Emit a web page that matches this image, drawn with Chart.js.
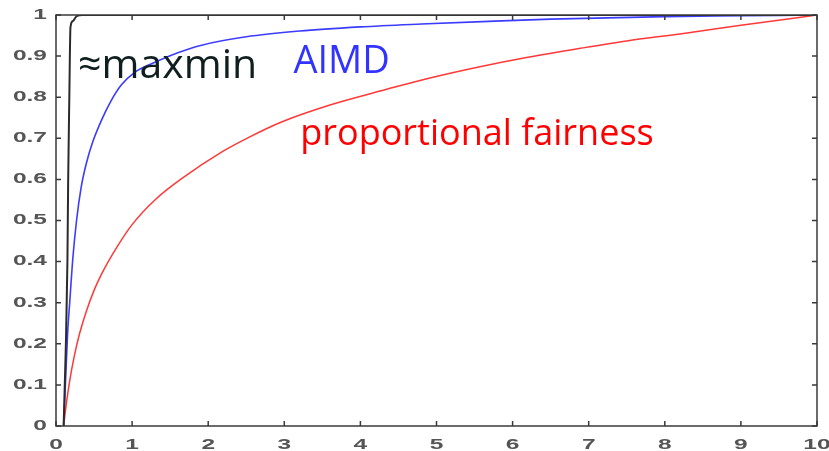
<!DOCTYPE html>
<html>
<head>
<meta charset="utf-8">
<script src="https://cdn.jsdelivr.net/npm/chart.js@4/dist/chart.umd.min.js"></script>
<style>
    html, body { margin: 0; padding: 0; background: #fff; }
    #wrap { width: 829px; height: 451px; }
</style>
</head>
<body>
<div id="wrap"><canvas id="fairChart" width="829" height="451"></canvas></div>
<script>
// tick labels
const xTicks = [0, 1, 2, 3, 4, 5, 6, 7, 8, 9, 10];
const yTicks = [0, 0.1, 0.2, 0.3, 0.4, 0.5, 0.6, 0.7, 0.8, 0.9, 1];
const yTickLabels = ['0', '0.1', '0.2', '0.3', '0.4', '0.5', '0.6', '0.7', '0.8', '0.9', '1'];

// ~maxmin (black)
const maxminX = [0.10, 0.13, 0.15, 0.16, 0.175, 0.19, 0.22, 0.27, 0.35, 10];
const maxminY = [0, 0.2, 0.4, 0.6, 0.8, 0.97, 0.985, 0.997, 1, 1];

// AIMD (blue)
const aimdX = [0.10, 0.13, 0.155, 0.18, 0.22, 0.27, 0.33, 0.40, 0.48, 0.60, 0.72, 0.86, 1.03, 1.3, 1.6, 1.9, 2.5, 3.2, 4.0, 4.8, 5.6, 6.5, 8.0, 9.0, 10];
const aimdY = [0, 0.13, 0.234, 0.30, 0.405, 0.50, 0.58, 0.64, 0.69, 0.745, 0.79, 0.83, 0.86, 0.885, 0.908, 0.926, 0.947, 0.961, 0.971, 0.978, 0.984, 0.99, 0.996, 0.998, 1];

// proportional fairness (red)
const propX = [0.10, 0.14, 0.18, 0.24, 0.31, 0.40, 0.50, 0.60, 0.80, 1.0, 1.3, 1.66, 2.18, 2.54, 2.94, 3.6, 4.26, 4.9, 5.57, 6.2, 6.89, 7.5, 8.2, 9.0, 10];
const propY = [0, 0.06, 0.11, 0.17, 0.225, 0.28, 0.33, 0.37, 0.435, 0.49, 0.55, 0.603, 0.667, 0.703, 0.738, 0.781, 0.815, 0.846, 0.874, 0.897, 0.919, 0.937, 0.954, 0.975, 1];

// text labels put on the plot (x, y in data units)
const notes = [
    { text: '\u2248maxmin', x: 0.29, y: 0.847, size: 41, color: '#0f1e1e' },
    { text: 'AIMD', x: 3.12, y: 0.859, size: 38, color: '#3333ff' },
    { text: 'proportional fairness', x: 3.21, y: 0.684, size: 36, color: '#ff0000' }
];

const toPoints = (xs, ys) => xs.map((x, i) => ({ x: x, y: ys[i] }));

// frame, inward ticks, stretched tick labels and the notes
const matlabAxes = {
    id: 'matlabAxes',
    afterDraw(chart) {
        const ctx = chart.ctx;
        const a = chart.chartArea;
        const xs = chart.scales.x;
        const ys = chart.scales.y;
        ctx.save();
        ctx.strokeStyle = '#3a3a3a';
        ctx.lineWidth = 1.5;
        ctx.strokeRect(a.left, a.top, a.right - a.left, a.bottom - a.top);

        ctx.beginPath();
        xTicks.forEach(v => {
            const px = xs.getPixelForValue(v);
            ctx.moveTo(px, a.bottom); ctx.lineTo(px, a.bottom - 5);
            ctx.moveTo(px, a.top); ctx.lineTo(px, a.top + 5);
        });
        yTicks.forEach(v => {
            const py = ys.getPixelForValue(v);
            ctx.moveTo(a.left, py); ctx.lineTo(a.left + 5, py);
            ctx.moveTo(a.right, py); ctx.lineTo(a.right - 5, py);
        });
        ctx.stroke();

        // tick labels (the source figure is stretched sideways)
        const sx = 1.75;
        ctx.fillStyle = '#555';
        ctx.font = 'bold 14px "Liberation Sans", Arial, sans-serif';
        ctx.textBaseline = 'middle';
        ctx.textAlign = 'right';
        yTicks.forEach((v, i) => {
            const py = ys.getPixelForValue(v);
            ctx.save();
            ctx.translate(a.left - 9, py);
            ctx.scale(sx, 1);
            ctx.fillText(yTickLabels[i], 0, 0);
            ctx.restore();
        });
        ctx.textAlign = 'center';
        ctx.textBaseline = 'alphabetic';
        xTicks.forEach(v => {
            const px = xs.getPixelForValue(v);
            ctx.save();
            ctx.translate(px, a.bottom + 23);
            ctx.scale(sx, 1);
            ctx.fillText(String(v), 0, 0);
            ctx.restore();
        });

        // notes
        ctx.textAlign = 'left';
        notes.forEach(n => {
            ctx.font = n.size + 'px "Open Sans", sans-serif';
            ctx.fillStyle = n.color;
            ctx.fillText(n.text, xs.getPixelForValue(n.x), ys.getPixelForValue(n.y));
        });
        ctx.restore();
    }
};

const ctx = document.getElementById('fairChart').getContext('2d');
const fairChart = new Chart(ctx, {
    type: 'line',
    data: {
        datasets: [
            {
                label: 'maxmin',
                data: toPoints(maxminX, maxminY),
                borderColor: '#2b2b2b',
                borderWidth: 2,
                pointRadius: 0,
                cubicInterpolationMode: 'monotone'
            },
            {
                label: 'AIMD',
                data: toPoints(aimdX, aimdY),
                borderColor: '#3c3cff',
                borderWidth: 1.6,
                pointRadius: 0,
                cubicInterpolationMode: 'monotone'
            },
            {
                label: 'proportional fairness',
                data: toPoints(propX, propY),
                borderColor: '#ff3838',
                borderWidth: 1.5,
                pointRadius: 0,
                cubicInterpolationMode: 'monotone'
            }
        ]
    },
    options: {
        responsive: false,
        animation: false,
        layout: { padding: { top: 15, right: 12, left: 0, bottom: 0 } },
        plugins: { legend: { display: false }, tooltip: { enabled: false } },
        scales: {
            x: {
                type: 'linear',
                min: 0,
                max: 10,
                ticks: { display: false, stepSize: 1 },
                grid: { display: false, drawTicks: false },
                border: { display: false },
                afterFit: s => { s.height = 25; }
            },
            y: {
                type: 'linear',
                min: 0,
                max: 1,
                ticks: { display: false, stepSize: 0.1 },
                grid: { display: false, drawTicks: false },
                border: { display: false },
                afterFit: s => { s.width = 56; }
            }
        }
    },
    plugins: [matlabAxes]
});
</script>
</body>
</html>
